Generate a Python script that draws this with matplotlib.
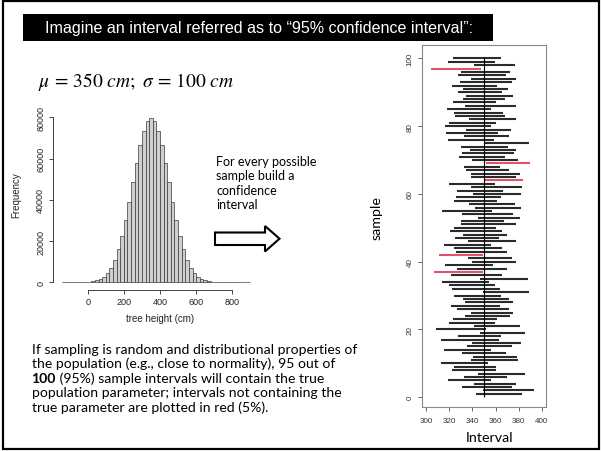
import matplotlib
matplotlib.use("Agg")
import matplotlib.pyplot as plt
from matplotlib.patches import Rectangle, Polygon

plt.rcParams["mathtext.fontset"] = "stix"

# histogram of simulated tree heights: left bin edges (cm) and counts
bin_left = list(range(-140, 900, 20))
freq = [1, 2, 5, 12, 28, 60, 125, 250, 490, 900, 1600, 2700, 4500, 7100,
        10900, 15900, 22200, 30000, 38900, 48400, 57900, 66600, 73500, 78100,
        79700, 78100, 73500, 66600, 57900, 48400, 38900, 30000, 22200, 15900,
        10900, 7100, 4500, 2700, 1600, 900, 490, 250, 125, 60, 28, 12, 5, 2,
        1, 0, 0, 1]

# 100 sample confidence intervals (sample 1..100)
ci_low = [343.3, 349.1, 331.2, 341.6, 318.5, 332.7, 345.1, 322.6, 324.0, 313.0,
          339.0, 340.2, 330.6, 315.4, 335.3, 339.6, 312.8, 327.2, 346.5, 308.4,
          341.3, 319.4, 323.1, 333.8, 338.7, 326.3, 321.1, 333.8, 331.5, 324.0,
          349.4, 322.3, 320.0, 313.6, 346.5, 321.7, 307.0, 326.3, 316.2, 339.9,
          336.4, 311.0, 326.0, 323.7, 315.6, 336.1, 324.9, 331.5, 320.8, 324.3,
          330.4, 329.8, 344.5, 330.6, 313.6, 342.5, 337.3, 324.3, 325.5, 340.5,
          326.3, 339.0, 320.0, 350.8, 338.7, 338.7, 334.4, 332.4, 351.7, 339.9,
          328.0, 331.2, 337.9, 330.4, 349.6, 319.1, 332.7, 317.1, 334.7, 316.2,
          319.7, 337.0, 324.6, 323.7, 317.6, 333.8, 322.8, 331.5, 334.4, 327.7,
          332.1, 322.6, 329.2, 338.7, 327.2, 330.4, 304.4, 341.6, 319.1, 322.8]
ci_high = [382.6, 393.0, 373.9, 377.4, 356.4, 369.9, 385.5, 360.7, 360.1, 353.5,
           379.7, 378.9, 369.3, 355.8, 374.3, 382.4, 363.0, 365.0, 385.8, 351.4,
           381.5, 359.8, 361.5, 372.5, 375.1, 371.4, 363.8, 375.2, 371.4, 365.0,
           389.3, 364.1, 359.2, 354.4, 387.9, 365.6, 349.5, 370.2, 358.1, 378.0,
           374.0, 349.4, 370.0, 365.6, 356.1, 377.7, 363.0, 369.9, 365.3, 360.1,
           378.0, 367.3, 381.5, 374.8, 356.7, 381.8, 377.1, 361.3, 365.0, 381.8,
           366.2, 383.2, 359.5, 383.5, 377.7, 381.5, 371.6, 364.1, 389.8, 379.2,
           367.9, 376.0, 377.7, 370.5, 389.3, 358.6, 371.9, 361.8, 373.4, 356.1,
           360.4, 377.7, 368.2, 366.4, 355.7, 377.7, 360.1, 367.9, 374.8, 365.3,
           370.5, 361.0, 374.5, 377.4, 368.8, 372.3, 347.4, 376.9, 359.8, 364.7]
true_mu = 350
samples = list(range(1, 101))

W, H = 601, 452
fig = plt.figure(figsize=(W / 100, H / 100), dpi=100)

# slide layer in pixel coordinates
bg = fig.add_axes([0, 0, 1, 1])
bg.set_xlim(0, W)
bg.set_ylim(H, 0)
bg.axis("off")
bg.add_patch(Rectangle((3, 2), 595.5, 447.5, fill=False, ec="black", lw=1.6))
bg.add_patch(Rectangle((23, 15), 470, 27, fc="black", ec="none"))
bg.text(259.5, 28.5, "Imagine an interval referred as to \u201c95% confidence interval\u201d:",
        color="white", ha="center", va="center", fontsize=11.6,
        family="Liberation Sans")
bg.text(38, 82, r"$\mu\,=\,350\ cm;\ \sigma\,=\,100\ cm$", fontsize=14,
        ha="left", va="center")
bg.text(216.5, 156, "For every possible\nsample build a\nconfidence\ninterval",
        ha="left", va="top", fontsize=9, family="Lato", linespacing=1.25)
bg.add_patch(Polygon([(215, 233.5), (265, 233.5), (265, 227), (279.5, 239.7),
                      (265, 252.5), (265, 246), (215, 246)],
                     closed=True, fc="white", ec="black", lw=1.5))

fs = 10.1
body_kw = dict(fontsize=fs, family="Lato", ha="left", va="baseline")
bg.text(31.5, 354, "If sampling is random and distributional properties of", **body_kw)
bg.text(31.5, 368.4, "the population (e.g., close to normality), 95 out of", **body_kw)
t100 = bg.text(31.5, 382.8, "100", fontweight="bold", **body_kw)
bg.annotate(" (95%) sample intervals will contain the true", xy=(1, 0),
            xycoords=t100, ha="left", va="bottom", fontsize=fs, family="Lato")
bg.text(31.5, 397.2, "population parameter; intervals not containing the", **body_kw)
bg.text(31.5, 411.6, "true parameter are plotted in red (5%).", **body_kw)

bg.text(16.7, 195, "Frequency", rotation=90, ha="center", va="center",
        fontsize=7, family="Liberation Sans", color="#222222")
bg.text(160, 319.5, "tree height (cm)", ha="center", va="center",
        fontsize=7, family="Liberation Sans", color="#222222")
bg.text(376.5, 218, "sample", rotation=90, ha="center", va="center",
        fontsize=10.3, family="Lato")
bg.text(489.7, 438, "Interval", ha="center", va="center",
        fontsize=10.3, family="Lato")

# histogram
ax = fig.add_axes([53.3 / W, 1 - 290.7 / H, 204.7 / W, 178.3 / H])
ax.patch.set_alpha(0)
ax.bar(bin_left, freq, width=20, align="edge", color="#cfcfcf",
       edgecolor="#3a3a3a", linewidth=0.5)
ax.set_xlim(-190, 942)
ax.set_ylim(-3600, 82842)
for s in ("top", "right"):
    ax.spines[s].set_visible(False)
ax.spines["left"].set_bounds(0, 80000)
ax.spines["bottom"].set_bounds(0, 800)
for s in ("left", "bottom"):
    ax.spines[s].set_color("#444444")
    ax.spines[s].set_linewidth(0.7)
ax.set_xticks(range(0, 801, 200))
ax.set_yticks(range(0, 80001, 20000))
ax.tick_params(length=3.1, width=0.7, color="#444444", labelsize=6.5,
               labelcolor="#222222")
ax.tick_params(axis="x", pad=1.8)
ax.tick_params(axis="y", pad=2.7)
plt.setp(ax.get_yticklabels(), rotation=90, va="center", family="Liberation Sans")
plt.setp(ax.get_xticklabels(), family="Liberation Sans")

# confidence intervals
ax2 = fig.add_axes([422 / W, 1 - 408.3 / H, 124 / W, 362.3 / H])
ax2.patch.set_alpha(0)
cols = ["#2b2b2b" if lo <= true_mu <= hi else "#DF536B"
        for lo, hi in zip(ci_low, ci_high)]
ax2.hlines(samples, ci_low, ci_high, colors=cols, linewidth=1.5)
ax2.vlines(true_mu, 0, 100.5, color="black", linewidth=0.8)
ax2.set_xlim(296.3, 403.7)
ax2.set_ylim(-2.96, 103.96)
ax2.set_xticks(range(300, 401, 20))
ax2.set_yticks(range(0, 101, 20))
for s in ax2.spines.values():
    s.set_color("#888888")
    s.set_linewidth(0.8)
ax2.tick_params(length=2.7, width=0.7, color="#666666", labelsize=5.8,
                labelcolor="#333333")
ax2.tick_params(axis="x", pad=4.5)
ax2.tick_params(axis="y", pad=3.5)
plt.setp(ax2.get_yticklabels(), rotation=90, va="center", family="Liberation Sans")
plt.setp(ax2.get_xticklabels(), family="Liberation Sans")

fig.savefig("out.png", dpi=100)
